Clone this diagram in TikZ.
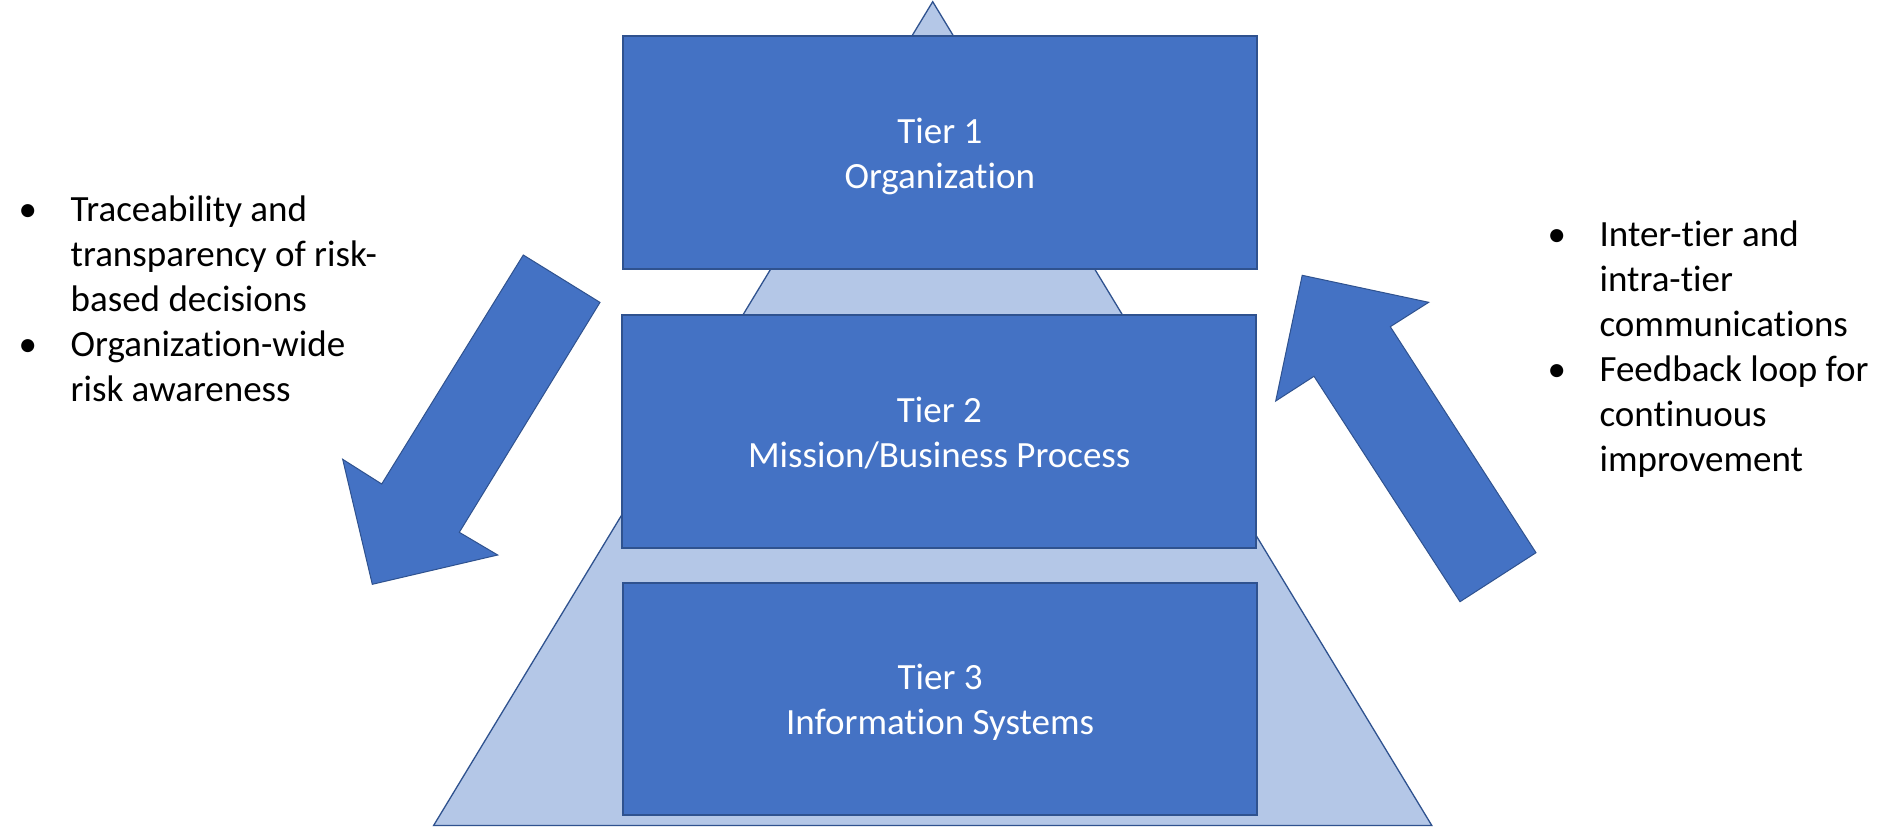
\documentclass[tikz,border=0pt]{standalone}
\usepackage{fontspec}
\setmainfont{Carlito}[Ligatures={NoCommon}]
\definecolor{boxblue}{HTML}{4472C4}
\definecolor{edgeblue}{HTML}{2F528F}
\definecolor{lightblue}{HTML}{B4C7E7}
\begin{document}
\begin{tikzpicture}[x=1pt,y=-1pt,
  tierbox/.style={draw=edgeblue, line width=2pt, fill=boxblue, inner sep=0pt,
    minimum width=634pt, minimum height=232.5pt},
  tiertext/.style={text=white, inner sep=0pt, anchor=base,
    font=\fontsize{37}{45}\selectfont},
  sidetext/.style={text=black, inner sep=0pt, anchor=base west,
    font=\fontsize{37}{45}\selectfont},
  pyramid/.style={draw=edgeblue, line width=1.3pt, fill=lightblue, line join=miter},
  bigarrow/.style={draw=edgeblue, line width=1pt, fill=boxblue, line join=miter}]
\useasboundingbox[fill=white] (0,0) rectangle (1904,827);

% pyramid
\coordinate (apex) at (932.7,1.7);
\coordinate (bl) at (433.6,825.5);
\coordinate (br) at (1431.8,825.5);
\filldraw[pyramid] (apex) -- (br) -- (bl) -- cycle;

% tiers
\node[tierbox] (t1) at (939.8,152.7) {};
\node[tierbox] (t2) at (939.3,431.7) {};
\node[tierbox] (t3) at (940.1,699.2) {};

\node[tiertext] (l1) at (939.8,143.3) {\begin{tabular}[t]{@{}c@{}}Tier 1\\Organization\end{tabular}};
\node[tiertext] (l2) at (939.3,422.3) {\begin{tabular}[t]{@{}c@{}}Tier 2\\Mission/Business Process\end{tabular}};
\node[tiertext] (l3) at (940.1,689.3) {\begin{tabular}[t]{@{}c@{}}Tier 3\\Information Systems\end{tabular}};

% left arrow (downwards)
\filldraw[bigarrow] (523.3,255) -- (600,302.4) -- (459.3,532.3) -- (497.7,555)
  -- (372.3,584.3) -- (342.7,459.3) -- (381.7,484) -- cycle;

% right arrow (upwards)
\filldraw[bigarrow] (1302.2,275.3) -- (1428.7,302.3) -- (1390.3,326.7) -- (1536,552.7)
  -- (1460,601.7) -- (1314,376.3) -- (1275.7,401) -- cycle;

% side texts
\node[sidetext] (left) at (18.5,221.7) {\begin{tabular}[t]{@{}p{52pt}@{}l@{}}
\textbullet & Traceability and\\
 & transparency of risk-\\
 & based decisions\\
\textbullet & Organization-wide\\
 & risk awareness
\end{tabular}};

\node[sidetext] (right) at (1547.4,246.7) {\begin{tabular}[t]{@{}p{52pt}@{}l@{}}
\textbullet & Inter-tier and\\
 & intra-tier\\
 & communications\\
\textbullet & Feedback loop for\\
 & continuous\\
 & improvement
\end{tabular}};
\end{tikzpicture}
\end{document}
